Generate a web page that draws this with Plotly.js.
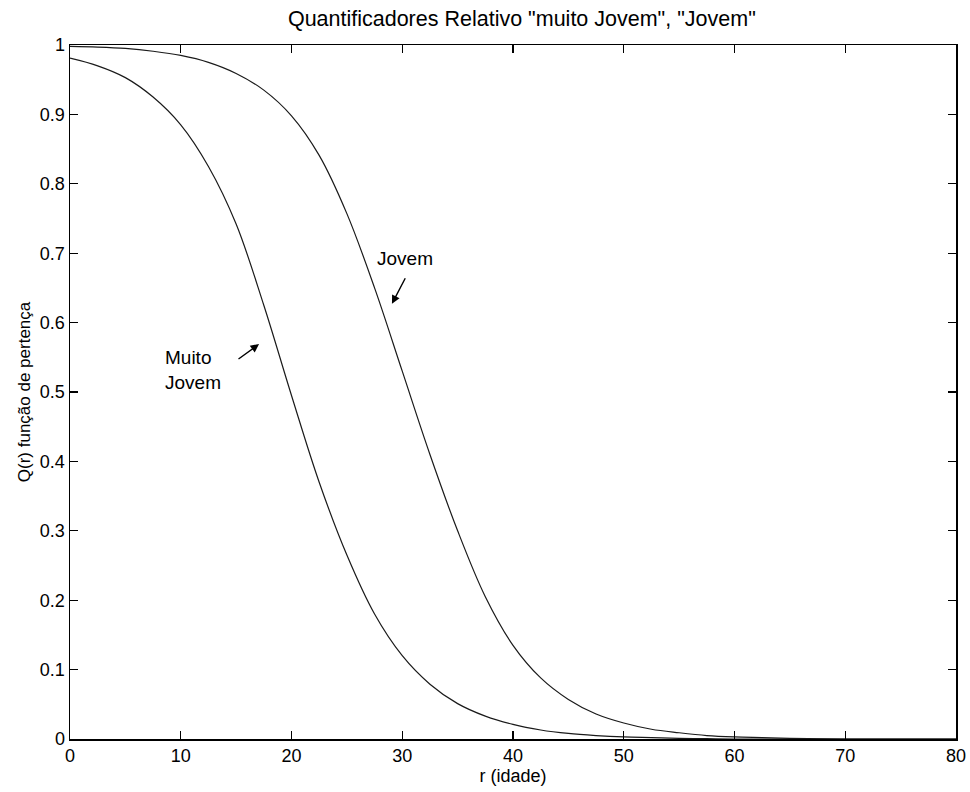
<!DOCTYPE html>
<html>
<head>
<meta charset="utf-8">
<script src="https://cdn.plot.ly/plotly-3.0.1.min.js"></script>
<style>
  html, body { margin: 0; padding: 0; background: #fff; }
  #chart { width: 970px; height: 792px; }
</style>
</head>
<body>
<div id="chart"></div>
<script>
// Idade r (anos)
const idade = [0, 2.5, 5, 7.5, 10, 12.5, 15, 17.5, 20, 22.5, 25, 27.5, 30, 32.5, 35, 37.5,
               40, 42.5, 45, 47.5, 50, 52.5, 55, 57.5, 60, 62.5, 65, 70, 75, 80];

// Q(r) para "Jovem"
const jovem = [0.998, 0.997, 0.995, 0.991, 0.985, 0.975, 0.959, 0.935, 0.898, 0.841, 0.757, 0.650,
               0.530, 0.410, 0.300, 0.205, 0.135, 0.088, 0.057, 0.036, 0.023, 0.014, 0.009,
               0.005, 0.003, 0.002, 0.001, 0, 0, 0];

// Q(r) para "muito Jovem"
const muitoJovem = [0.981, 0.970, 0.953, 0.925, 0.885, 0.825, 0.742, 0.625, 0.495, 0.370, 0.265, 0.180,
                    0.120, 0.079, 0.051, 0.033, 0.021, 0.013, 0.008, 0.005, 0.003, 0.002, 0.001,
                    0.0005, 0, 0, 0, 0, 0, 0];

const xTicks = [0, 10, 20, 30, 40, 50, 60, 70, 80];
const yTicks = [0, 0.1, 0.2, 0.3, 0.4, 0.5, 0.6, 0.7, 0.8, 0.9, 1];

const FONT = "Liberation Sans, Arial, Helvetica, sans-serif";

const curva = {color: '#1a1a1a', width: 1.2, shape: 'spline', smoothing: 1};

const traces = [
  {x: idade, y: jovem, type: 'scatter', mode: 'lines', line: curva, name: 'Jovem', hoverinfo: 'x+y'},
  {x: idade, y: muitoJovem, type: 'scatter', mode: 'lines', line: curva, name: 'Muito Jovem', hoverinfo: 'x+y'}
];

const eixo = {
  showgrid: false,
  zeroline: false,
  showline: true,
  linecolor: '#000',
  linewidth: 1.5,
  mirror: 'ticks',
  ticks: 'inside',
  ticklen: 8,
  tickwidth: 1.2,
  tickcolor: '#000',
  tickfont: {family: FONT, size: 18, color: '#000'}
};

const layout = {
  width: 970,
  height: 792,
  paper_bgcolor: '#fff',
  plot_bgcolor: '#fff',
  showlegend: false,
  margin: {l: 70, r: 14, t: 45, b: 53},
  title: {
    text: 'Quantificadores Relativo "muito Jovem", "Jovem"',
    font: {family: FONT, size: 21.5, color: '#000'},
    x: 0.538, xanchor: 'center', y: 0.977, yanchor: 'middle'
  },
  xaxis: Object.assign({}, eixo, {
    range: [0, 80], tickvals: xTicks, ticktext: xTicks.map(String),
    title: {text: 'r (idade)', font: {family: FONT, size: 18, color: '#000'}, standoff: 4}
  }),
  yaxis: Object.assign({}, eixo, {
    range: [0, 1], tickvals: yTicks, ticktext: yTicks.map(String),
    title: {text: 'Q(r) função de pertença', font: {family: FONT, size: 17, color: '#000'}, standoff: 5}
  }),
  annotations: [
    {xref: 'x', yref: 'y', x: 30.25, y: 0.692, text: 'Jovem', showarrow: false,
     font: {family: FONT, size: 19, color: '#000'}, xanchor: 'center', yanchor: 'middle'},
    {xref: 'x', yref: 'y', x: 29.07, y: 0.627, ax: 30.34, ay: 0.666, axref: 'x', ayref: 'y',
     text: '', showarrow: true, arrowhead: 2, arrowsize: 1.2, arrowwidth: 1.4, arrowcolor: '#000'},
    {xref: 'x', yref: 'y', x: 8.4, y: 0.531, text: 'Muito<br>Jovem', showarrow: false, align: 'left',
     font: {family: FONT, size: 19, color: '#000'}, xanchor: 'left', yanchor: 'middle'},
    {xref: 'x', yref: 'y', x: 17.07, y: 0.569, ax: 15.08, ay: 0.546, axref: 'x', ayref: 'y',
     text: '', showarrow: true, arrowhead: 2, arrowsize: 1.2, arrowwidth: 1.4, arrowcolor: '#000'}
  ]
};

Plotly.newPlot('chart', traces, layout, {displayModeBar: false, staticPlot: true});
</script>
</body>
</html>
